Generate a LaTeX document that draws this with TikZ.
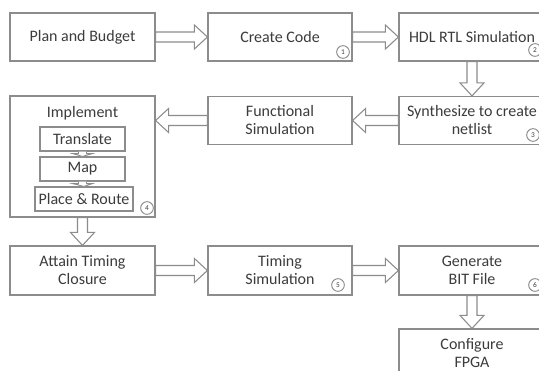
\documentclass[tikz,border=0pt]{standalone}
\usepackage{fontspec}
\setmainfont{Carlito}
\usetikzlibrary{calc}
\definecolor{boxc}{HTML}{8C8C8C}
\definecolor{txtc}{HTML}{3C3C3C}
\tikzset{
  box/.style={draw=boxc, line width=0.9pt, fill=white, rectangle, align=center,
    text=txtc, font=\fontsize{12}{13.5}\selectfont, inner sep=0pt},
  inbox/.style={box, minimum height=18pt},
  num/.style={draw=boxc, line width=0.7pt, circle, minimum size=9.5pt, inner sep=0pt,
    text=txtc, font=\fontsize{5.5}{6}\selectfont},
  blk/.style={draw=boxc, line width=0.8pt, fill=white, line join=miter},
}
\newcommand\rarrow[2]{\draw[blk] ($(#1.east)+(0,5)$) -- ($(#1.east -| #2.west)+(-13,5)$) -- ($(#1.east -| #2.west)+(-13,12)$) -- (#1.east -| #2.west) -- ($(#1.east -| #2.west)+(-13,-12)$) -- ($(#1.east -| #2.west)+(-13,-5)$) -- ($(#1.east)+(0,-5)$) -- cycle;}
\newcommand\larrow[2]{\draw[blk] ($(#1.west)+(0,5)$) -- ($(#1.west -| #2.east)+(13,5)$) -- ($(#1.west -| #2.east)+(13,12)$) -- (#1.west -| #2.east) -- ($(#1.west -| #2.east)+(13,-12)$) -- ($(#1.west -| #2.east)+(13,-5)$) -- ($(#1.west)+(0,-5)$) -- cycle;}
\newcommand\darrow[2]{\draw[blk] ($(#1.south)+(5,0)$) -- ($(#1.south |- #2.north)+(5,-13)$) -- ($(#1.south |- #2.north)+(12,-13)$) -- (#1.south |- #2.north) -- ($(#1.south |- #2.north)+(-12,-13)$) -- ($(#1.south |- #2.north)+(-5,-13)$) -- ($(#1.south)+(-5,0)$) -- cycle;}
\newcommand\sarrow[2]{\draw[blk, line width=0.6pt] ($(#1.south)+(4,0)$) -- ($(#1.south)+(4,2)$) -- ($(#1.south)+(10,2)$) -- (#2.north) -- ($(#1.south)+(-10,2)$) -- ($(#1.south)+(-4,2)$) -- ($(#1.south)+(-4,0)$);}
\begin{document}
\begin{tikzpicture}[x=0.75pt, y=-0.75pt]
\useasboundingbox (0,0) rectangle (539,371);
\clip (0,0) rectangle (539,371);
\fill[white] (0,0) rectangle (539,371);
% row 1
\node[box, minimum width=108.75pt, minimum height=36pt] (plan) at (82.5,37) {Plan and Budget};
\node[box, minimum width=108pt, minimum height=36pt] (code) at (280,37) {Create Code};
\node[box, minimum width=109.5pt, minimum height=36pt] (hdl) at (472,37) {HDL RTL Simulation};
% row 2
\node[box, minimum width=108.75pt, minimum height=90.75pt] (impl) at (82.5,156.5) {};
\node[box, minimum width=108pt, minimum height=36pt] (func) at (280,120.5) {Functional\\Simulation};
\node[box, minimum width=109.5pt, minimum height=36pt] (synth) at (472,120.5) {Synthesize to create\\netlist};
\node[text=txtc, font=\fontsize{12}{13.5}\selectfont, inner sep=0pt] (impllab) at (82.5,113) {Implement};
\node[inbox, minimum width=63.75pt] (trans) at (82.5,139) {Translate};
\node[inbox, minimum width=63.75pt] (map) at (82.5,169) {Map};
\node[inbox, minimum width=73.5pt] (par) at (84,199) {Place \& Route};
% row 3
\node[box, minimum width=108.75pt, minimum height=36.75pt] (attain) at (82.5,270.5) {Attain Timing\\Closure};
\node[box, minimum width=108pt, minimum height=36.75pt] (timing) at (280,270.5) {Timing\\Simulation};
\node[box, minimum width=109.5pt, minimum height=36.75pt] (gen) at (472,270.5) {Generate\\BIT File};
% row 4
\node[box, minimum width=109.5pt, minimum height=36.75pt] (conf) at (472,353.5) {Configure\\FPGA};
% numbers
\node[num] (n1) at (343,52) {1};
\node[num] (n2) at (535,50) {2};
\node[num] (n3) at (533,135) {3};
\node[num] (n4) at (147,208) {4};
\node[num] (n5) at (338,285) {5};
\node[num] (n6) at (535,285) {6};
% arrows
\rarrow{plan}{code}
\rarrow{code}{hdl}
\darrow{hdl}{synth}
\larrow{synth}{func}
\larrow{func}{impl}
\darrow{impl}{attain}
\rarrow{attain}{timing}
\rarrow{timing}{gen}
\darrow{gen}{conf}
\sarrow{trans}{map}
\sarrow{map}{par}
\end{tikzpicture}
\end{document}
